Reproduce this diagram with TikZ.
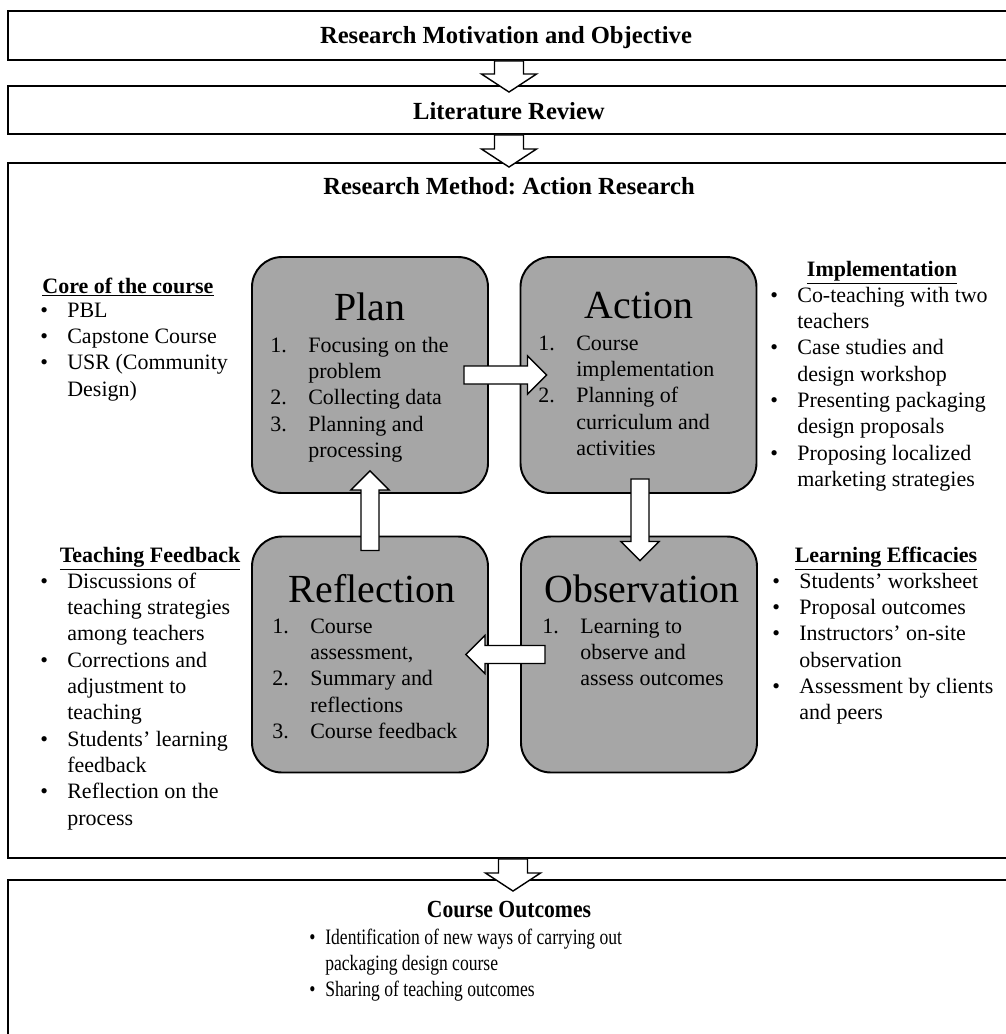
\documentclass[tikz,border=0pt]{standalone}
\usepackage{fontspec}
\setmainfont{Liberation Serif}
\newfontfamily\narrowserif[FakeStretch=0.8]{Liberation Serif}
\frenchspacing
\usetikzlibrary{calc,positioning}

\definecolor{boxgray}{RGB}{166,166,166}

% numbered and bulleted columns used inside the nodes
\newcommand{\numlist}[1]{\begin{tabular}[t]{@{}p{7.6mm}@{}l@{}}#1\end{tabular}}
\newcommand{\dotlist}[1]{\begin{tabular}[t]{@{}p{5.4mm}@{}l@{}}#1\end{tabular}}
\newcommand{\smalldotlist}[1]{\begin{tabular}[t]{@{}p{3.2mm}@{}l@{}}#1\end{tabular}}

% hollow block arrow: tail, tip, half shaft, half head, head length
\newcommand{\blockarrow}[5]{%
  \coordinate (hb) at ($(#2)!#5!(#1)$);
  \draw[hollow] ($(#1)!#3!90:(#2)$) -- ($(hb)!#3!90:(#2)$) -- ($(hb)!#4!90:(#2)$)
    -- (#2) -- ($(hb)!#4!-90:(#2)$) -- ($(hb)!#3!-90:(#2)$) -- ($(#1)!#3!-90:(#2)$) -- cycle;}

\tikzset{
  frame/.style={draw, line width=1.1pt, minimum width=201.2mm, inner sep=0pt},
  stage/.style={draw, line width=1.1pt, fill=boxgray, rounded corners=6mm,
    minimum width=47.2mm, minimum height=47.2mm, inner sep=0pt},
  hollow/.style={fill=white, draw, line width=0.8pt, line join=miter},
  headtext/.style={font=\fontsize{14}{16}\selectfont\bfseries, anchor=base, inner sep=0pt},
  stagetitle/.style={font=\fontsize{22.7}{26}\selectfont, anchor=base, inner sep=0pt},
  sidehead/.style={font=\fontsize{12.5}{15}\selectfont\bfseries, anchor=base, inner sep=0pt},
  body/.style={font=\fontsize{12.5}{15}\selectfont, anchor=base west, inner sep=0pt},
}

\begin{document}
\begin{tikzpicture}[x=0.2mm, y=-0.2mm]
\useasboundingbox (0,0) rectangle (1006,1034);

% frames of the outer flow
\node[frame, minimum height=9.8mm] (motiv) at (511,35.5) {};
\node[frame, minimum height=9.6mm] (review) at (511,110) {};
\node[frame, minimum height=139mm] (method) at (511,510.5) {};
\node[frame, minimum height=33mm] (outcome) at (511,962.5) {};

\node[headtext] (motivtext) at (506,43) {Research Motivation and Objective};
\node[headtext] (reviewtext) at (509,119) {Literature Review};
\node[headtext] (methodtext) at (509,194) {Research Method: Action Research};
\node[headtext] (outcometext) at (509,917) {\narrowserif\bfseries\scalebox{1.1}[1]{Course Outcomes}};

\node[body] (outcomelist) at (309,944) {\narrowserif\smalldotlist{%
  • & Identification of new ways of carrying out\\
    & packaging design course\\
  • & Sharing of teaching outcomes}};

% the four stages of the cycle
\node[stage] (plan) at (370,375) {};
\node[stage] (action) at (638.5,375) {};
\node[stage] (reflect) at (370,654.5) {};
\node[stage] (observe) at (639,654.5) {};

\node[stagetitle] (plantitle) at (370,320) {Plan};
\node[body] (planlist) at (270,352) {\numlist{%
  1. & Focusing on the\\
     & problem\\
  2. & Collecting data\\
  3. & Planning and\\
     & processing}};

\node[stagetitle] (actiontitle) at (639,318) {Action};
\node[body] (actionlist) at (538,350) {\numlist{%
  1. & Course\\
     & implementation\\
  2. & Planning of\\
     & curriculum and\\
     & activities}};

\node[stagetitle] (reflecttitle) at (372,602) {Reflection};
\node[body] (reflectlist) at (272,633) {\numlist{%
  1. & Course\\
     & assessment,\\
  2. & Summary and\\
     & reflections\\
  3. & Course feedback}};

\node[stagetitle] (observetitle) at (642,602) {Observation};
\node[body] (observelist) at (542,633) {\numlist{%
  1. & Learning to\\
     & observe and\\
     & assess outcomes}};

% notes beside the stages
\node[sidehead] (corehead) at (128,293) {\underline{Core of the course}};
\node[body] (corelist) at (40,317) {\dotlist{%
  • & PBL\\
  • & Capstone Course\\
  • & USR (Community\\
    & Design)}};

\node[sidehead] (implhead) at (882,276) {\underline{Implementation}};
\node[body] (impllist) at (770,302) {\dotlist{%
  • & Co-teaching with two\\
    & teachers\\
  • & Case studies and\\
    & design workshop\\
  • & Presenting packaging\\
    & design proposals\\
  • & Proposing localized\\
    & marketing strategies}};

\node[sidehead] (feedhead) at (150,562) {\underline{Teaching Feedback}};
\node[body] (feedlist) at (40,588) {\dotlist{%
  • & Discussions of\\
    & teaching strategies\\
    & among teachers\\
  • & Corrections and\\
    & adjustment to\\
    & teaching\\
  • & Students’ learning\\
    & feedback\\
  • & Reflection on the\\
    & process}};

\node[sidehead] (effhead) at (886,562) {\underline{Learning Efficacies}};
\node[body] (efflist) at (772,588) {\dotlist{%
  • & Students’ worksheet\\
  • & Proposal outcomes\\
  • & Instructors’ on-site\\
    & observation\\
  • & Assessment by clients\\
    & and peers}};

% block arrows between the frames
\coordinate (a1) at ($(review.north)+(-2,7)$);
\coordinate (a2) at ($(method.north)+(-2,5)$);
\coordinate (a3) at ($(outcome.north)+(2,12)$);
\coordinate (m1) at ($(motiv.south)+(-2,0)$);
\coordinate (m2) at ($(review.south)+(-2,0)$);
\coordinate (m3) at ($(method.south)+(2,0)$);
\blockarrow{m1}{a1}{2.9mm}{5.5mm}{3.6mm}
\blockarrow{m2}{a2}{2.9mm}{5.5mm}{3.6mm}
\blockarrow{m3}{a3}{2.9mm}{5.5mm}{3.6mm}

% block arrows round the cycle
\coordinate (pa) at ($(plan.east)+(-25,0)$);
\coordinate (pb) at ($(action.west)+(27,0)$);
\coordinate (ao) at ($(action.south)+(1.5,-15)$);
\coordinate (ab) at ($(observe.north)+(1,25)$);
\coordinate (oa) at ($(observe.west)+(25,0)$);
\coordinate (ob) at ($(reflect.east)+(-23,0)$);
\coordinate (ra) at ($(reflect.north)+(0,15)$);
\coordinate (rb) at ($(plan.south)+(0,-23)$);
\blockarrow{pa}{pb}{1.8mm}{3.8mm}{3.8mm}
\blockarrow{ao}{ab}{1.8mm}{3.8mm}{3.8mm}
\blockarrow{oa}{ob}{1.8mm}{3.8mm}{3.8mm}
\blockarrow{ra}{rb}{1.8mm}{3.8mm}{3.8mm}

\end{tikzpicture}
\end{document}
